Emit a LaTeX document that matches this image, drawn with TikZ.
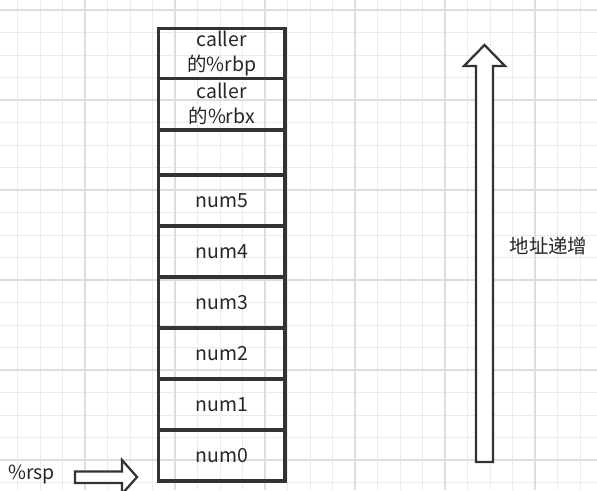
\documentclass[tikz,border=0pt]{standalone}
\usepackage{fontspec}
\setmainfont{Noto Sans CJK SC}
\begin{document}
\begin{tikzpicture}[x=0.75pt,y=-0.75pt,
  cell/.style={draw=cell edge, line width=2.3pt},
  celltext/.style={text=cell text, align=center, inner sep=0pt, font=\fontsize{14.6}{18.75}\selectfont},
  hollow/.style={draw=cell edge, fill=white, line width=1.7pt, line join=miter}]
\definecolor{grid minor}{gray}{0.92}
\definecolor{grid major}{gray}{0.87}
\definecolor{cell edge}{gray}{0.2}
\definecolor{cell text}{gray}{0.15}
\useasboundingbox (0,0) rectangle (597,490);
% grid
\foreach \x in {17.5,40,...,597} \draw[grid minor, line width=0.75pt] (\x,0) -- (\x,490);
\foreach \y in {10,32.5,...,490} \draw[grid minor, line width=0.75pt] (0,\y) -- (597,\y);
\foreach \x in {-5,85,...,597} \draw[grid major, line width=0.9pt] (\x,0) -- (\x,490);
\foreach \y in {10,100,...,490} \draw[grid major, line width=0.9pt] (0,\y) -- (597,\y);
% stack
\foreach \t/\b/\n/\s in {28.5/78.5/rbp/{caller\\的\%rbp}, 78.5/130/rbx/{caller\\的\%rbx},
    130/175/gap/{}, 175/226/numv/num5, 226/277/numiv/num4, 277/328/numiii/num3,
    328/379/numii/num2, 379/430/numi/num1, 430/481/numo/num0}{
    \draw[cell] (158.5,\t) rectangle (285,\b);
    \node[celltext] (\n) at (221.75,{(\t+\b)/2}) {\s};
}
\draw[hollow] (476,462) -- (476,66) -- (464,66) -- (484.5,45) -- (505,66) -- (493,66) -- (493,462) -- cycle;
\node[celltext] (grow) at (548.5,246) {地址递增};
\draw[hollow] (75,471.5) -- (122,471.5) -- (122,460) -- (137,477) -- (122,494) -- (122,483) -- (75,483) -- cycle;
\node[celltext] (rsp) at (31.5,474) {\%rsp};
\end{tikzpicture}
\end{document}
